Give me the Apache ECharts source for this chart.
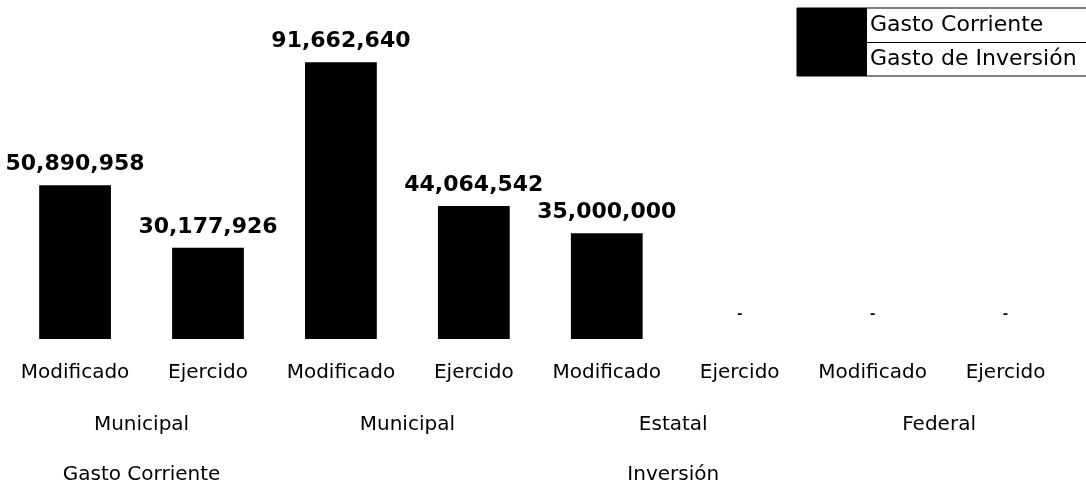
<!DOCTYPE html>
<html>
<head>
<meta charset="utf-8">
<script src="https://cdn.jsdelivr.net/npm/echarts@6/dist/echarts.min.js"></script>
<style>
html,body{margin:0;padding:0;background:#fff;}
#chart{width:1086px;height:490px;}
</style>
</head>
<body>
<div id="chart"></div>
<script>
var level1 = ['Modificado','Ejercido','Modificado','Ejercido','Modificado','Ejercido','Modificado','Ejercido'];
var level2 = ['Municipal','Municipal','Estatal','Federal'];
var level3 = ['Gasto Corriente','','Inversión',''];
var seriesNames = ['Gasto Corriente','Gasto de Inversión'];
var gastoCorriente = [50890958, 30177926, 91662640, 44064542, '-', '-', '-', '-'];
var gastoInversion = ['-', '-', '-', '-', 35000000, 0, 0, 0];

var FONT = 'DejaVu Sans';
var chart = echarts.init(document.getElementById('chart'), null, {renderer:'canvas'});

function fmt(p){
  var v = p.value;
  if (v === 0) return '{z|-}';
  return Number(v).toLocaleString('en-US');
}

var labelStyle = {
  show: true, position: 'top', distance: 10,
  fontFamily: FONT, fontSize: 22, fontWeight: 'bold', color: '#000',
  formatter: fmt,
  rich: {z: {fontFamily: FONT, fontSize: 13, fontWeight: 'bold', color: '#000', padding: [0,0,8,0]}}
};

function catAxis(data, offset){
  return {
    type: 'category', data: data, position: 'bottom', offset: offset,
    boundaryGap: true,
    axisLine: {show:false}, axisTick: {show:false},
    axisLabel: {fontFamily: FONT, fontSize: 20, color: '#000', margin: 24, interval: 0}
  };
}

chart.setOption({
  animation: false,
  backgroundColor: '#fff',
  textStyle: {fontFamily: FONT},
  grid: {left: 8.6, right: 14, top: 37, bottom: 151, containLabel: false},
  legend: {
    orient: 'vertical', left: 797, top: 8,
    padding: [0, 30, 0, 0],
    itemWidth: 70, itemHeight: 34, itemGap: 0,
    borderColor: '#000', borderWidth: 1,
    icon: 'rect',
    textStyle: {fontFamily: FONT, fontSize: 22, color: '#000', padding: [0,0,0,-2]},
    data: seriesNames
  },
  graphic: [{
    type: 'line', shape: {x1: 867, y1: 42.5, x2: 1086, y2: 42.5},
    style: {stroke: '#000', lineWidth: 1}
  }],
  xAxis: [catAxis(level1, 0), catAxis(level2, 52), catAxis(level3, 102)],
  yAxis: {type: 'value', min: 0, max: 100000000, show: false, splitLine: {show:false}},
  series: [
    {name: seriesNames[0], type: 'bar', data: gastoCorriente, barWidth: '54%', barGap: '-100%',
     itemStyle: {color: '#000'}, label: labelStyle},
    {name: seriesNames[1], type: 'bar', data: gastoInversion, barWidth: '54%', barGap: '-100%',
     itemStyle: {color: '#000'}, label: labelStyle}
  ]
});
</script>
</body>
</html>
